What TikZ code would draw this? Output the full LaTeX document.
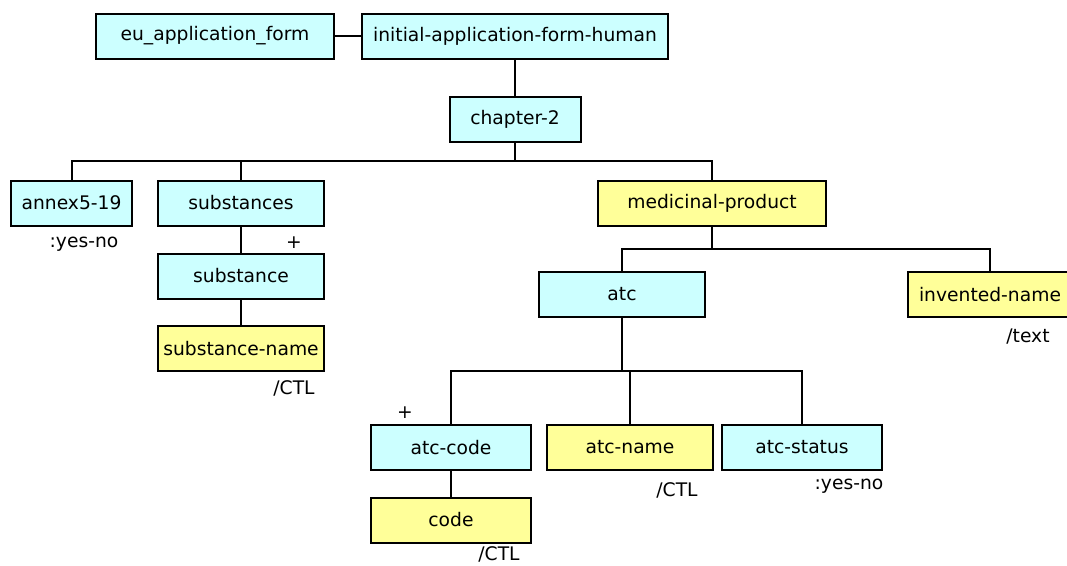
\documentclass[tikz,border=0pt]{standalone}
\usepackage{fontspec}
\setmainfont{DejaVu Sans}
\usetikzlibrary{positioning}

\definecolor{elemcyan}{HTML}{CCFFFF}
\definecolor{elemyellow}{HTML}{FFFF99}

\begin{document}
\begin{tikzpicture}[x=1pt, y=-1pt,
    elem/.style={draw=black, line width=2pt, inner sep=0pt, minimum height=45pt,
                 font=\fontsize{18.7}{22}\selectfont},
    cyanbox/.style={elem, fill=elemcyan},
    yellowbox/.style={elem, fill=elemyellow},
    note/.style={inner sep=0pt, font=\fontsize{18.7}{22}\selectfont},
    link/.style={line width=2pt}]
    \useasboundingbox (0,0) rectangle (1067,565);

    % Top level
    \node[cyanbox, minimum width=238pt] (euform) at (215,36) {eu\_application\_form};
    \node[cyanbox, minimum width=306pt] (initform) at (515,36) {initial-application-form-human};
    \node[cyanbox, minimum width=131pt] (chapter) at (515,119) {chapter-2};

    % Chapter children
    \node[cyanbox, minimum width=121pt] (annex) at (71.5,203) {annex5-19};
    \node[cyanbox, minimum width=166pt] (substances) at (241,203) {substances};
    \node[cyanbox, minimum width=166pt] (substance) at (241,276) {substance};
    \node[yellowbox, minimum width=166pt] (substname) at (241,348.5) {substance-name};
    \node[yellowbox, minimum width=228pt] (medprod) at (712,203) {medicinal-product};

    % Medicinal product children
    \node[cyanbox, minimum width=166pt] (atc) at (622,294.5) {atc};
    \node[yellowbox, minimum width=164pt] (invname) at (990,294.5) {invented-name};
    \node[cyanbox, minimum width=160pt] (atccode) at (451,447.5) {atc-code};
    \node[yellowbox, minimum width=166pt] (atcname) at (630,447.5) {atc-name};
    \node[cyanbox, minimum width=160pt] (atcstatus) at (802,447.5) {atc-status};
    \node[yellowbox, minimum width=160pt] (code) at (451,520) {code};

    % Type and occurrence notes
    \node[note] (annextype) at (84,244) {:yes-no};
    \node[note] (substplus) at (294,243) {+};
    \node[note] (substtype) at (294,388) {/CTL};
    \node[note] (invtype) at (1028,337) {/text};
    \node[note] (codeplus) at (405,413) {+};
    \node[note] (nametype) at (677,490) {/CTL};
    \node[note] (statustype) at (849,486) {:yes-no};
    \node[note] (codetype) at (499,554) {/CTL};

    % Connectors
    \draw[link] (euform) -- (initform);
    \draw[link] (initform.south) -- (chapter.north);
    \draw[link] (chapter.south) -- ++(0,19);
    \draw[link] (annex.north) -- ++(0,-19) -| (medprod.north);
    \draw[link] (substances.north) -- ++(0,-19);
    \draw[link] (substances) -- (substance);
    \draw[link] (substance) -- (substname);
    \draw[link] (medprod.south) -- ++(0,23);
    \draw[link] (atc.north) -- ++(0,-22) -| (invname.north);
    \draw[link] (atc.south) -- ++(0,53);
    \draw[link] (atccode.north) -- ++(0,-53) -| (atcstatus.north);
    \draw[link] (atcname.north) -- ++(0,-53);
    \draw[link] (atccode) -- (code);
\end{tikzpicture}
\end{document}
